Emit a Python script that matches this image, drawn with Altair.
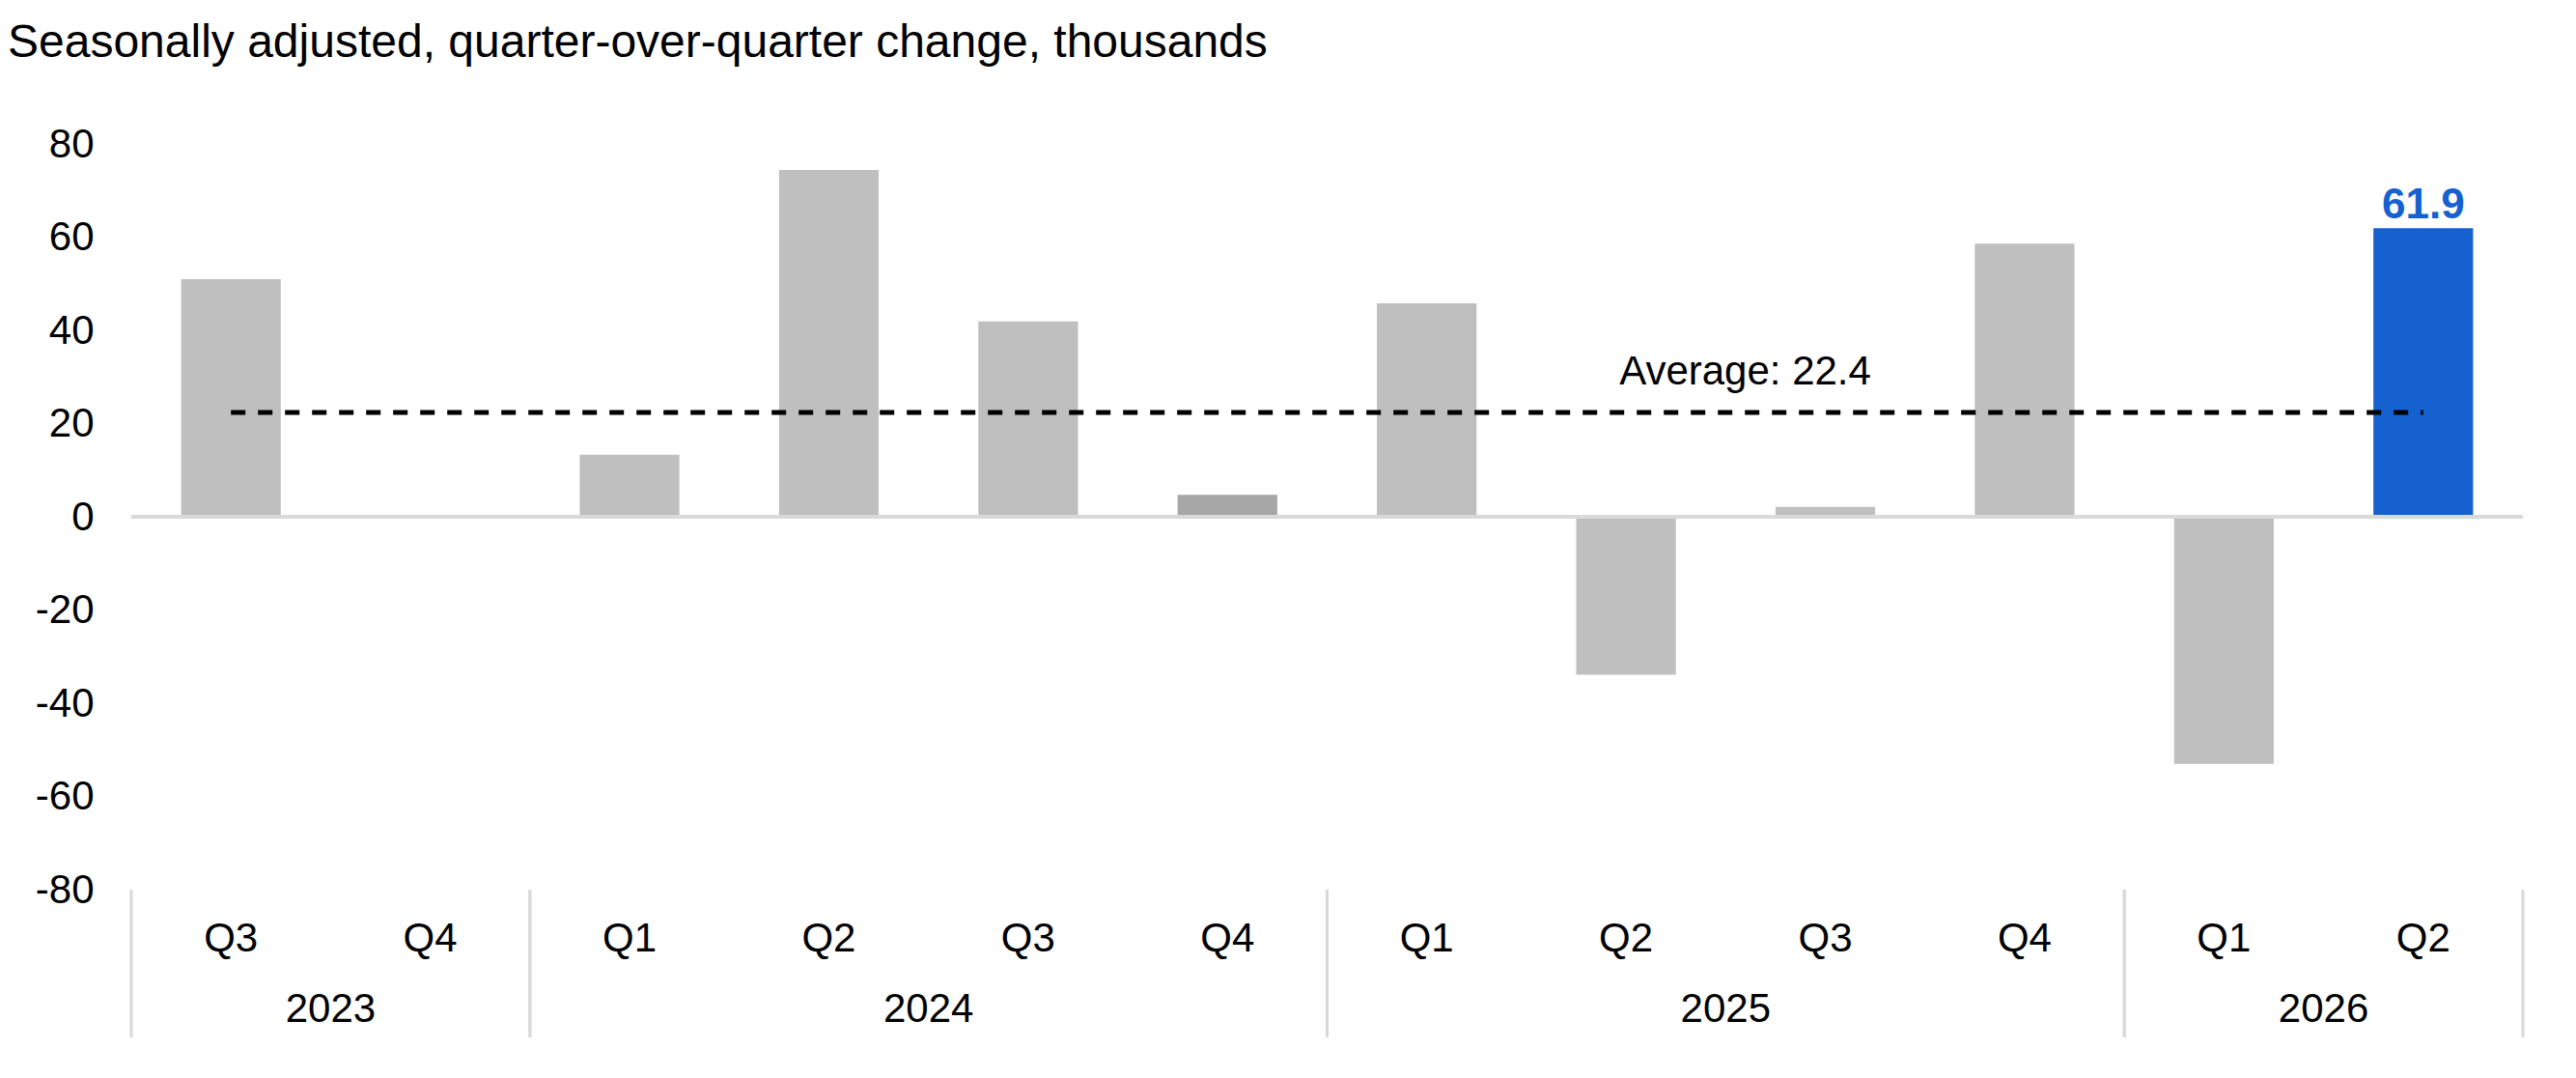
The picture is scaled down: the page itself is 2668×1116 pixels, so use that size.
import altair as alt
import pandas as pd

# ---- data ----
years = ["2023", "2023", "2024", "2024", "2024", "2024",
         "2025", "2025", "2025", "2025", "2026", "2026"]
quarters = ["Q3", "Q4", "Q1", "Q2", "Q3", "Q4",
            "Q1", "Q2", "Q3", "Q4", "Q1", "Q2"]
values = [51.0, 0.0, 13.3, 74.4, 41.9, 4.7,
          45.8, -33.9, 2.1, 58.6, -53.0, 61.9]
bar_kind = ["base", "base", "base", "base", "base", "dark",
            "base", "base", "base", "base", "base", "highlight"]
average = 22.4
y_ticks = [-80, -60, -40, -20, 0, 20, 40, 60, 80]
title_text = "Seasonally adjusted, quarter-over-quarter change, thousands"
avg_label = f"Average: {average}"

kind_domain = ["base", "dark", "highlight"]
kind_colors = ["#BFBFBF", "#A6A6A6", "#1561CF"]

FONT = "Liberation Sans"
W, H = 2477, 772

keys = [f"{y}-{q}" for y, q in zip(years, quarters)]
df = pd.DataFrame({"key": keys, "year": years, "quarter": quarters,
                   "value": values, "kind": bar_kind})

groups = []
for y in dict.fromkeys(years):
    ks = [k for k, yy in zip(keys, years) if yy == y]
    groups.append({"year": y, "start": ks[0], "mid": ks[len(ks) // 2], "end": ks[-1]})
gdf = pd.DataFrame(groups)

avg_df = pd.DataFrame({"start": [keys[0]], "end": [keys[-1]], "avg": [average],
                       "label": [avg_label], "anchor": ["2025-Q2"]})

xscale = alt.Scale(domain=keys, paddingInner=0, paddingOuter=0)
yscale = alt.Scale(domain=[-80, 80], nice=False, zero=False)

x_axis = alt.Axis(title=None, labelExpr="split(datum.value, '-')[1]",
                  labelAngle=0, ticks=False, tickSize=0, domain=False, grid=False,
                  labelPadding=50, labelBaseline="middle",
                  labelFontSize=42, labelFont=FONT, labelColor="#000000")
y_axis = alt.Axis(title=None, values=y_ticks, grid=False, ticks=False,
                  domain=False, labelPadding=39, minExtent=128,
                  labelExpr="toString(datum.value)",
                  labelFontSize=42, labelFont=FONT, labelColor="#000000")

base = alt.Chart(df)

bars = base.mark_bar(width={"band": 0.5}).encode(
    x=alt.X("key:N", scale=xscale, sort=keys, axis=x_axis),
    y=alt.Y("value:Q", scale=yscale, axis=y_axis),
    color=alt.Color("kind:N", scale=alt.Scale(domain=kind_domain, range=kind_colors),
                    legend=None),
)

zero_line = alt.Chart(df).mark_rule(color="#D9D9D9", strokeWidth=4).encode(
    y=alt.datum(0, scale=yscale, axis=y_axis)
)

avg_line = alt.Chart(avg_df).mark_rule(color="#000000", strokeWidth=5,
                                       strokeDash=[15, 13]).encode(
    x=alt.X("start:N", scale=xscale, axis=x_axis),
    x2="end:N",
    y=alt.Y("avg:Q", scale=yscale, axis=y_axis),
)

avg_text = alt.Chart(avg_df).mark_text(align="left", baseline="alphabetic",
                                       dx=-7, dy=-29, fontSize=42, font=FONT,
                                       color="#000000").encode(
    x=alt.X("anchor:N", scale=xscale, axis=x_axis),
    y=alt.Y("avg:Q", scale=yscale, axis=y_axis),
    text="label:N",
)

value_label = base.transform_filter(alt.datum.kind == "highlight").mark_text(
    baseline="alphabetic", dy=-10, fontSize=44, fontWeight="bold", font=FONT,
    color="#1561CF").encode(
    x=alt.X("key:N", scale=xscale, axis=x_axis),
    y=alt.Y("value:Q", scale=yscale, axis=y_axis),
    text=alt.Text("value:Q", format=".1f"),
)

year_text = alt.Chart(gdf).mark_text(baseline="middle", fontSize=42, font=FONT,
                                     color="#000000").encode(
    x=alt.X("mid:N", scale=xscale, axis=x_axis, bandPosition=0),
    y=alt.value(H + 124),
    text="year:N",
)

sep_start = alt.Chart(gdf).mark_rule(color="#D9D9D9", strokeWidth=3).encode(
    x=alt.X("start:N", scale=xscale, axis=x_axis, bandPosition=0),
    y=alt.value(H),
    y2=alt.value(H + 153),
)
sep_end = alt.Chart(gdf).mark_rule(color="#D9D9D9", strokeWidth=3).encode(
    x=alt.X("end:N", scale=xscale, axis=x_axis, bandPosition=1),
    y=alt.value(H),
    y2=alt.value(H + 153),
)

chart = alt.layer(
    bars, zero_line, avg_line, avg_text, value_label, year_text, sep_start, sep_end
).properties(
    width=W,
    height=H,
    background="#FFFFFF",
    padding={"top": 13, "left": 0, "right": 0, "bottom": 0},
    title=alt.TitleParams(text=title_text, anchor="start", frame="group", dx=-128,
                          font=FONT, fontSize=48, fontWeight="normal",
                          color="#000000", baseline="alphabetic", offset=21),
).configure_view(stroke=None)

chart.save("out.html", embed_options={"renderer": "svg", "actions": False})
